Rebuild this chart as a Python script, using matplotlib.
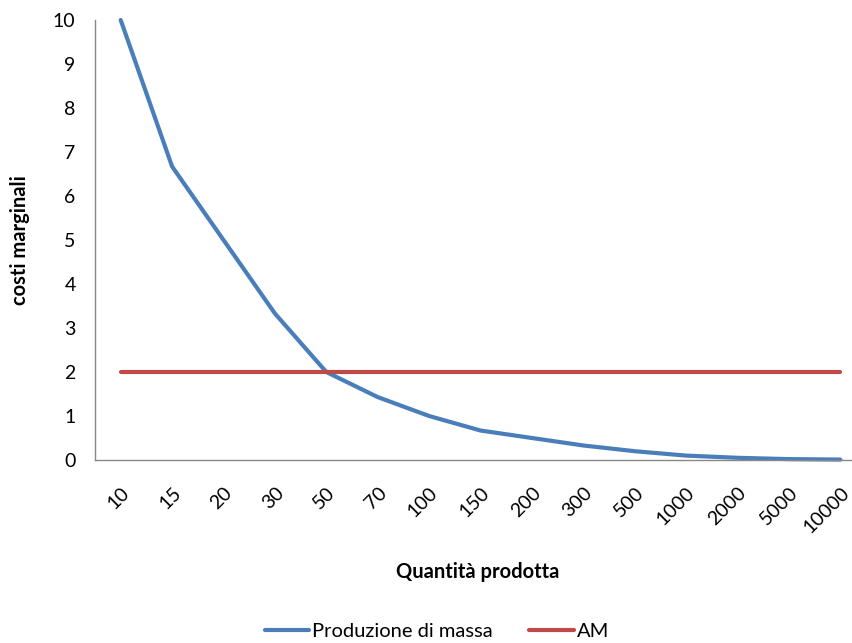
import numpy as np
import matplotlib.pyplot as plt

plt.rcParams['font.family'] = ['Lato', 'DejaVu Sans']

quantita = ["10", "15", "20", "30", "50", "70", "100", "150", "200", "300",
            "500", "1000", "2000", "5000", "10000"]
produzione_massa = [10, 6.67, 5, 3.33, 2, 1.43, 1, 0.67, 0.5, 0.33,
                    0.2, 0.1, 0.05, 0.02, 0.01]
am = [2] * len(quantita)

fig = plt.figure(figsize=(8.52, 6.43), dpi=100)
ax = fig.add_axes([95 / 852, 1 - 460 / 643, (866 - 95) / 852, (460 - 20) / 643])

x = np.arange(len(quantita))
ax.plot(x, produzione_massa, color="#4A7EBB", lw=3, label="Produzione di massa",
        solid_capstyle="round", clip_on=False)
ax.plot(x, am, color="#BE4B48", lw=3, label="AM", solid_capstyle="round")

ax.set_xlim(-0.5, len(quantita) - 0.5)
ax.set_ylim(0, 10)
ax.set_yticks(range(0, 11))
ax.set_xticks(x)
ax.set_xticklabels(quantita, rotation=45, ha="right", rotation_mode="anchor")
ax.tick_params(axis="both", length=0, labelsize=14, colors="#000000")
ax.tick_params(axis="x", pad=17)
ax.tick_params(axis="y", pad=14)

for side in ["top", "right"]:
    ax.spines[side].set_visible(False)
for side in ["left", "bottom"]:
    ax.spines[side].set_color("#888888")
    ax.spines[side].set_linewidth(1)

fig.text(20 / 852, 1 - 240 / 643, "costi marginali", rotation=90, ha="center",
         va="center", fontsize=14.5, fontweight="bold")
fig.text(478 / 852, 1 - 572 / 643, "Quantità prodotta", ha="center",
         va="center", fontsize=14.5, fontweight="bold")

fig.legend(loc="center", bbox_to_anchor=(437 / 852, 1 - 631 / 643), ncol=2,
           frameon=False, fontsize=14.5, handlelength=2.2, handletextpad=0.15,
           columnspacing=1.8)

fig.savefig("out.png", dpi=100)
